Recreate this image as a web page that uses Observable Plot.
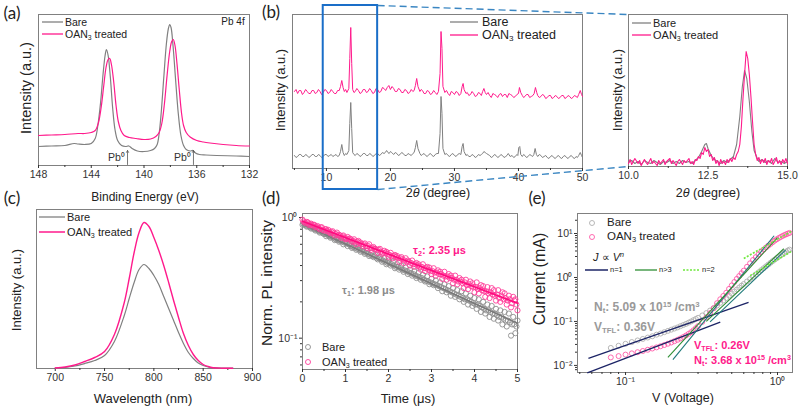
<!DOCTYPE html>
<html><head><meta charset="utf-8">
<script src="https://cdn.jsdelivr.net/npm/d3@7"></script>
<script src="https://cdn.jsdelivr.net/npm/@observablehq/plot@0.6"></script>
<style>
body{margin:0;background:#fff}
#fig{position:relative;width:799px;height:407px;overflow:hidden;background:#fff;font-family:"Liberation Sans",Arial,sans-serif;color:#222}
.t{position:absolute;white-space:nowrap;line-height:1}
.t sub{font-size:65%;vertical-align:-0.3em;line-height:0}
.t sup{font-size:65%;vertical-align:0.55em;line-height:0}
</style></head><body><div id="fig"></div>
<script>
// ---------- (a) XPS Pb 4f : [binding energy eV, intensity a.u.] ----------
const xpsBare = [[148,19],[147,19.5],[146,20],[145.3,22],[145,21.5],[144.5,21],[144,22],[143.7,27],[143.5,40],[143.3,62],[143.1,92],[142.95,110],[142.85,116],[142.72,110],[142.55,88],[142.38,58],[142.2,36],[142.0,25],[141.7,20],[141.4,19],[141.15,19.5],[140.9,17],[140.5,14.5],[140.0,14],[139.5,15],[139.2,17],[139.0,21],[138.85,32],[138.7,52],[138.5,88],[138.3,122],[138.15,137],[138.05,141],[137.95,138],[137.8,120],[137.6,85],[137.4,52],[137.2,30],[137.0,20],[136.8,16],[136.5,14.5],[136.3,15],[136.1,12.5],[135.8,11],[135.3,10.5],[134.5,10],[133,9.5],[132,9]];
const xpsOAN = [[148,30],[147,30.5],[146,31],[145,32],[144.5,32],[144,33],[143.7,35],[143.45,43],[143.25,58],[143.05,80],[142.88,98],[142.72,106],[142.6,107],[142.47,101],[142.3,84],[142.12,60],[141.95,44],[141.75,35],[141.5,30],[141.1,28],[140.6,27],[140.0,26],[139.5,26.5],[139.1,29],[138.85,33],[138.65,42],[138.45,62],[138.25,90],[138.05,114],[137.9,124],[137.78,126],[137.65,120],[137.5,102],[137.32,75],[137.15,52],[137.0,40],[136.8,33],[136.5,28.5],[136.0,25],[135.5,23.5],[135,22.5],[134,21],[133,20],[132,19.5]];
const xpsTicks = [148,144,140,136,132];
const xpsMinor = [146,142,138,134];
const pb0Peaks = [141.25,136.25];

// ---------- (b) XRD : [2theta, intensity a.u.] ----------
const xrdBare = [[5,13],[5.25,11],[5.5,12],[5.75,14],[6,14],[6.25,12],[6.5,12],[6.75,14],[7,13],[7.25,11],[7.5,12],[7.75,14],[8,14],[8.25,12],[8.5,12],[8.75,14],[9,13],[9.25,11],[9.5,12],[9.75,14],[10,14],[10.25,12],[10.5,13],[10.75,14],[11,12],[11.25,13],[11.5,14],[11.75,12],[12,13],[12.2,17],[12.4,24],[12.6,16],[12.8,13],[13,15],[13.2,14],[13.5,18],[13.65,45],[13.8,66],[13.95,40],[14.1,16],[14.3,14],[14.5,13],[14.75,15],[15,14],[15.25,12],[15.5,13],[15.75,15],[16,15],[16.25,13],[16.5,13],[16.75,15],[17,14],[17.25,12],[17.5,13],[17.75,15],[18,15],[18.25,13],[18.5,14],[18.75,16],[19,15],[19.2,16],[19.4,18],[19.6,16],[19.8,15],[20,17],[20.2,16],[20.5,14],[20.75,16],[21,15],[21.25,13],[21.5,14],[21.75,16],[22,15],[22.25,13],[22.5,13],[22.75,15],[23,14],[23.25,13],[23.5,15],[23.7,16],[23.9,21],[24.1,28],[24.3,20],[24.6,15],[24.8,13],[25,14],[25.25,15],[25.5,13],[25.75,12],[26,14],[26.25,15],[26.5,13],[26.75,12],[27,14],[27.25,15],[27.5,15],[27.75,35],[27.9,72],[28.05,55],[28.2,20],[28.5,14],[28.75,15],[29,13],[29.25,12],[29.5,14],[29.75,15],[30,13],[30.25,12],[30.5,14],[30.75,15],[31,14],[31.2,22],[31.35,25],[31.5,17],[31.8,13],[32,14],[32.25,12],[32.5,12],[32.75,14],[33,13],[33.25,11],[33.5,12],[33.75,14],[34,13],[34.2,14],[34.4,15],[34.6,17],[34.8,16],[35,15],[35.25,14],[35.5,13],[35.75,11],[36,12],[36.25,14],[36.5,13],[36.75,11],[37,12],[37.25,14],[37.5,13],[37.75,11],[38,12],[38.2,13],[38.4,15],[38.7,12],[39,13],[39.25,11],[39.5,12],[39.75,14],[39.9,13],[40.05,21],[40.2,22],[40.35,14],[40.6,12],[40.8,14],[41,13],[41.25,11],[41.5,12],[41.75,14],[42,13],[42.2,12],[42.4,14],[42.6,20],[42.8,14],[43,12],[43.25,14],[43.5,13],[43.75,11],[44,12],[44.25,13],[44.5,11],[44.75,10],[45,12],[45.25,13],[45.5,11],[45.75,10],[46,12],[46.25,13],[46.5,11],[46.75,10],[47,12],[47.25,13],[47.5,11],[47.75,10],[48,12],[48.25,13],[48.5,11],[48.75,10],[49,12],[49.2,11],[49.4,13],[49.65,16],[49.85,13],[50,11]];
const xrdOAN = [[5,77],[5.25,79],[5.5,75],[5.75,78],[6,78],[6.25,74],[6.5,76],[6.75,79],[7,77],[7.25,75],[7.5,75],[7.75,78],[8,78],[8.25,75],[8.5,76],[8.75,79],[9,77],[9.25,74],[9.5,76],[9.75,79],[10,78],[10.25,75],[10.5,76],[10.75,79],[11,77],[11.25,75],[11.5,75],[11.75,78],[12,78],[12.2,82],[12.4,88],[12.6,81],[12.8,77],[13,79],[13.2,76],[13.5,80],[13.65,110],[13.8,141],[13.95,105],[14.1,79],[14.3,76],[14.5,77],[14.75,80],[15,78],[15.25,75],[15.5,76],[15.75,79],[16,79],[16.25,76],[16.5,77],[16.75,80],[17,78],[17.25,75],[17.5,76],[17.75,80],[18,79],[18.25,76],[18.5,77],[18.75,81],[19,80],[19.25,78],[19.5,81],[19.75,83],[20,79],[20.25,82],[20.5,80],[20.75,77],[21,77],[21.25,80],[21.5,79],[21.75,76],[22,76],[22.25,79],[22.5,78],[22.75,75],[23,76],[23.25,79],[23.5,77],[23.7,78],[23.9,83],[24.1,90],[24.3,82],[24.6,77],[24.8,79],[25,78],[25.25,75],[25.5,75],[25.75,78],[26,77],[26.25,74],[26.5,75],[26.75,78],[27,76],[27.25,74],[27.5,77],[27.75,95],[27.9,137],[28.05,120],[28.2,82],[28.5,76],[28.75,78],[29,75],[29.25,73],[29.5,77],[29.75,76],[30,74],[30.25,77],[30.5,76],[30.75,73],[31,75],[31.2,82],[31.35,85],[31.5,79],[31.8,75],[32,76],[32.25,73],[32.5,74],[32.75,77],[33,75],[33.25,72],[33.5,73],[33.75,76],[34,75],[34.2,73],[34.4,77],[34.6,80],[34.8,76],[35,74],[35.25,76],[35.5,73],[35.75,71],[36,75],[36.25,74],[36.5,73],[36.75,71],[37,74],[37.25,75],[37.5,72],[37.75,74],[38,74],[38.25,71],[38.5,75],[38.75,74],[39,73],[39.25,71],[39.5,72],[39.75,74],[40,75],[40.15,81],[40.35,76],[40.6,73],[40.8,71],[41,72],[41.25,74],[41.5,74],[41.75,71],[42,72],[42.25,73],[42.45,75],[42.65,81],[42.85,76],[43,73],[43.25,71],[43.5,72],[43.75,74],[44,73],[44.25,70],[44.5,71],[44.75,73],[45,73],[45.25,70],[45.5,71],[45.75,73],[46,72],[46.25,70],[46.5,71],[46.75,73],[47,73],[47.25,70],[47.5,71],[47.75,73],[48,72],[48.25,70],[48.5,71],[48.75,73],[49,72],[49.2,71],[49.4,74],[49.65,78],[49.85,74],[50,72]];
const xrdTicks = [10,20,30,40,50];
const xrdMinor = [5,15,25,35,45];
const zoomBox = [{x1:9.5, x2:18, y1:-21, y2:163}];
const zoomLinks = [{x1:18, y1:163, x2:57.04, y2:154},{x1:18, y1:-21, x2:57.04, y2:2}];
// inset
const inBare = [[10,4],[10.1,6],[10.2,3],[10.3,5],[10.4,2],[10.5,6],[10.6,4],[10.7,3],[10.8,6],[10.9,4],[11,2],[11.1,5],[11.2,4],[11.3,6],[11.4,3],[11.5,5],[11.6,3],[11.7,6],[11.8,4],[11.9,5],[12,3],[12.1,6],[12.2,9],[12.3,15],[12.4,22],[12.45,23],[12.5,18],[12.6,11],[12.7,7],[12.8,5],[12.9,3],[13,6],[13.1,4],[13.2,7],[13.3,10],[13.4,22],[13.5,50],[13.58,80],[13.65,96],[13.72,88],[13.8,65],[13.88,35],[13.95,16],[14.05,8],[14.1,5],[14.2,7],[14.3,4],[14.4,6],[14.5,3],[14.6,8],[14.7,4],[14.8,5],[14.9,3],[15,5]];
const inOAN = [[10,3],[10.05,7],[10.1,2],[10.15,5],[10.2,8],[10.3,3],[10.35,6],[10.4,1],[10.5,7],[10.55,4],[10.6,2],[10.7,8],[10.75,3],[10.8,5],[10.9,1],[10.95,6],[11,3],[11.1,7],[11.15,2],[11.2,5],[11.3,8],[11.35,3],[11.4,6],[11.5,1],[11.55,5],[11.6,7],[11.7,2],[11.75,6],[11.8,4],[11.9,8],[11.95,3],[12,5],[12.05,2],[12.1,7],[12.15,6],[12.2,10],[12.25,8],[12.3,14],[12.35,12],[12.4,19],[12.45,15],[12.5,17],[12.55,10],[12.6,12],[12.65,6],[12.7,9],[12.75,3],[12.8,6],[12.85,1],[12.9,7],[12.95,3],[13,5],[13.05,2],[13.1,7],[13.15,4],[13.2,8],[13.25,5],[13.3,9],[13.35,7],[13.4,12],[13.45,15],[13.5,22],[13.55,40],[13.6,68],[13.65,92],[13.7,115],[13.75,108],[13.8,92],[13.85,70],[13.9,45],[13.95,22],[14,12],[14.05,6],[14.1,9],[14.15,3],[14.2,7],[14.25,4],[14.3,8],[14.35,2],[14.4,6],[14.45,4],[14.5,8],[14.55,2],[14.6,5],[14.65,9],[14.7,3],[14.75,6],[14.8,2],[14.85,7],[14.9,4],[14.95,8],[15,3]];
const inTicks = [10,12.5,15];
const inMinor = [11.25,13.75];

// ---------- (c) PL ----------
const plWave = [700,710,720,730,740,750,760,770,775,780,785,790,795,800,805,810,815,820,825,830,835,840,845,850,855,860,870,880];
const plBare = [0.3,1,2.5,5,8,13,27,53,70,86,99,104,100,93,84,72,60,48,36,25,16,10,5.5,3,1.5,0.8,0.4,0.3];
const plOAN  = [0.5,1.5,3.5,7,11,17,34,66,90,116,136,146,142,131,118,103,86,68,51,35,23,14,8,4,2,0.8,0.3,0.2];
const plTicks = [700,750,800,850,900];
const plMinor = [725,775,825,875];

// ---------- (d) TRPL ----------
const trplTime = [0,0.05,0.1,0.15,0.2,0.25,0.3,0.35,0.4,0.45,0.5,0.55,0.6,0.65,0.7,0.75,0.8,0.85,0.9,0.95,1,1.05,1.1,1.15,1.2,1.25,1.3,1.35,1.4,1.45,1.5,1.55,1.6,1.65,1.7,1.75,1.8,1.85,1.9,1.95,2,2.05,2.1,2.15,2.2,2.25,2.3,2.35,2.4,2.45,2.5,2.55,2.6,2.65,2.7,2.75,2.8,2.85,2.9,2.95,3,3.05,3.1,3.15,3.2,3.25,3.3,3.35,3.4,3.45,3.5,3.55,3.6,3.65,3.7,3.75,3.8,3.85,3.9,3.95,4,4.05,4.1,4.15,4.2,4.25,4.3,4.35,4.4,4.45,4.5,4.55,4.6,4.65,4.7,4.75,4.8,4.85,4.9,4.95,5];
const trplOAN = [0.96,0.91,0.92,0.87,0.89,0.87,0.83,0.85,0.80,0.83,0.78,0.80,0.79,0.74,0.77,0.71,0.75,0.72,0.68,0.71,0.66,0.69,0.67,0.63,0.66,0.60,0.64,0.62,0.58,0.61,0.56,0.60,0.54,0.57,0.55,0.51,0.55,0.50,0.53,0.52,0.47,0.51,0.46,0.49,0.48,0.43,0.47,0.42,0.46,0.44,0.40,0.44,0.39,0.42,0.41,0.37,0.41,0.36,0.39,0.385,0.34,0.38,0.33,0.365,0.355,0.31,0.355,0.305,0.34,0.33,0.285,0.33,0.28,0.315,0.305,0.26,0.305,0.255,0.295,0.285,0.24,0.29,0.235,0.275,0.27,0.22,0.265,0.215,0.26,0.25,0.205,0.25,0.20,0.24,0.235,0.19,0.225,0.18,0.22,0.21,0.17];
const trplBare = [0.87,0.89,0.84,0.86,0.81,0.83,0.78,0.80,0.75,0.77,0.73,0.70,0.72,0.68,0.70,0.65,0.67,0.63,0.65,0.60,0.63,0.58,0.61,0.56,0.59,0.54,0.57,0.52,0.55,0.50,0.53,0.48,0.51,0.47,0.49,0.45,0.47,0.43,0.46,0.41,0.44,0.40,0.43,0.38,0.41,0.37,0.40,0.355,0.385,0.34,0.37,0.33,0.36,0.315,0.35,0.305,0.335,0.295,0.325,0.28,0.31,0.275,0.30,0.26,0.29,0.245,0.28,0.24,0.27,0.225,0.26,0.22,0.25,0.21,0.245,0.20,0.235,0.19,0.225,0.185,0.215,0.175,0.21,0.165,0.20,0.16,0.19,0.15,0.185,0.145,0.175,0.14,0.17,0.13,0.165,0.125,0.16,0.105,0.15,0.11,0.14];
const trplTime2 = [0.025,0.075,0.125,0.175,0.225,0.275,0.325,0.375,0.425,0.475,0.525,0.575,0.625,0.675,0.725,0.775,0.825,0.875,0.925,0.975,1.025,1.075,1.125,1.175,1.225,1.275,1.325,1.375,1.425,1.475,1.525,1.575,1.625,1.675,1.725,1.775,1.825,1.875,1.925,1.975,2.025,2.075,2.125,2.175,2.225,2.275,2.325,2.375,2.425,2.475,2.525,2.575,2.625,2.675,2.725,2.775,2.825,2.875,2.925,2.975,3.025,3.075,3.125,3.175,3.225,3.275,3.325,3.375,3.425,3.475,3.525,3.575,3.625,3.675,3.725,3.775,3.825,3.875,3.925,3.975,4.025,4.075,4.125,4.175,4.225,4.275,4.325,4.375,4.425,4.475,4.525,4.575,4.625,4.675,4.725,4.775,4.825,4.875,4.925,4.975];
const trplOAN2 = [0.93,0.90,0.91,0.88,0.86,0.87,0.84,0.82,0.83,0.79,0.80,0.77,0.76,0.76,0.74,0.73,0.71,0.71,0.70,0.68,0.67,0.66,0.66,0.64,0.63,0.63,0.61,0.60,0.60,0.58,0.58,0.56,0.56,0.55,0.54,0.54,0.52,0.51,0.51,0.50,0.49,0.48,0.48,0.47,0.46,0.46,0.45,0.44,0.43,0.43,0.42,0.41,0.41,0.40,0.39,0.39,0.38,0.38,0.37,0.36,0.36,0.35,0.35,0.34,0.34,0.33,0.325,0.325,0.315,0.315,0.305,0.305,0.295,0.295,0.285,0.29,0.275,0.28,0.27,0.265,0.265,0.255,0.26,0.25,0.245,0.245,0.235,0.24,0.23,0.225,0.23,0.215,0.225,0.21,0.215,0.205,0.21,0.195,0.205,0.19];
const trplBare2 = [0.88,0.86,0.85,0.83,0.82,0.80,0.79,0.77,0.76,0.74,0.73,0.72,0.70,0.69,0.68,0.66,0.65,0.64,0.63,0.62,0.61,0.60,0.58,0.57,0.56,0.55,0.54,0.53,0.52,0.51,0.50,0.49,0.48,0.48,0.46,0.46,0.45,0.44,0.43,0.42,0.42,0.41,0.40,0.39,0.39,0.38,0.37,0.365,0.36,0.35,0.345,0.34,0.33,0.325,0.32,0.315,0.305,0.30,0.295,0.29,0.285,0.28,0.275,0.27,0.265,0.26,0.255,0.25,0.245,0.24,0.235,0.23,0.225,0.22,0.215,0.21,0.21,0.205,0.20,0.195,0.19,0.19,0.185,0.18,0.175,0.17,0.17,0.165,0.16,0.16,0.155,0.15,0.15,0.145,0.14,0.14,0.135,0.13,0.13,0.125];
const trplFitOAN = [[0,0.93],[5,0.195]];
const trplFitBare = [[0,0.88],[5,0.133]];
const trplTicks = [0,1,2,3,4,5];
const trplMinor = [0.5,1.5,2.5,3.5,4.5];

// ---------- (e) SCLC I-V ----------
const ivV = [0.08,0.09,0.10,0.11,0.12,0.13,0.14,0.15,0.16,0.17,0.18,0.19,0.20,0.21,0.22,0.23,0.24,0.25,0.26,0.27,0.28,0.29,0.30,0.32,0.34,0.36,0.38,0.40,0.42,0.44,0.46,0.48,0.50,0.52,0.54,0.56,0.58,0.60,0.63,0.66,0.69,0.72,0.75,0.78,0.81,0.84,0.87,0.90,0.93,0.96,0.99,1.02,1.05,1.08,1.11,1.14,1.17,1.20];
const ivOAN = [0.0152,0.0163,0.0176,0.0188,0.0200,0.0213,0.0227,0.0242,0.0257,0.0273,0.0291,0.0311,0.0332,0.0356,0.0382,0.0411,0.0443,0.0480,0.0522,0.057,0.063,0.070,0.078,0.098,0.124,0.155,0.20,0.26,0.32,0.38,0.45,0.55,0.66,0.79,0.93,1.08,1.25,1.43,1.75,2.1,2.5,2.9,3.35,3.8,4.3,4.8,5.3,5.8,6.35,6.9,7.4,7.9,8.35,8.8,9.2,9.6,9.95,10.3];
const ivBare = [0.025,0.028,0.031,0.034,0.037,0.040,0.043,0.046,0.050,0.053,0.057,0.061,0.065,0.069,0.073,0.078,0.083,0.088,0.094,0.100,0.107,0.114,0.121,0.137,0.155,0.177,0.20,0.23,0.265,0.30,0.34,0.385,0.43,0.48,0.53,0.59,0.65,0.71,0.81,0.92,1.04,1.17,1.31,1.46,1.62,1.79,1.97,2.16,2.36,2.56,2.77,2.98,3.2,3.42,3.65,3.88,4.1,4.3];
const fitN1 = [{x1:0.057,y1:0.0145,x2:0.645,y2:0.27},{x1:0.056,y1:0.0068,x2:0.42,y2:0.096}];
const fitN3 = [{x1:0.19,y1:0.0152,x2:1.0,y2:8.1},{x1:0.34,y1:0.10,x2:1.10,y2:4.5}];
const fitN3b = [{x1:0.205,y1:0.0135,x2:0.95,y2:8.9},{x1:0.36,y1:0.098,x2:1.13,y2:4.2}];
const fitN2 = [{x1:0.6,y1:2.7,x2:1.25,y2:11.5},{x1:0.66,y1:1.1,x2:1.25,y2:4.0}];
const ivXTicks = [0.1,1];
const ivXMinor = [0.05,0.06,0.07,0.08,0.09,0.2,0.3,0.4,0.5,0.6,0.7,0.8,0.9];
const ivYTicks = [0.01,0.1,1,10];
const ivYMinor = [0.008,0.009,0.02,0.03,0.04,0.05,0.06,0.07,0.08,0.09,0.2,0.3,0.4,0.5,0.6,0.7,0.8,0.9,2,3,4,5,6,7,8,9,20];
const powLabel = {0.01:"10⁻²",0.1:"10⁻¹",1:"10⁰",10:"10¹"};
const trplYTicks = [0.1,1];
const trplYMinor = [0.06,0.07,0.08,0.09,0.2,0.3,0.4,0.5,0.6,0.7,0.8,0.9];

// ---------- drawing ----------
const fig = document.getElementById("fig");
const GRAY = "#808080", PINK = "#ff1a8c", FRAME = "#808080", INK = "#333";
const FONT = '"Liberation Sans", Arial, sans-serif';
function place(svg, l, t){ svg.style.position="absolute"; svg.style.left=l+"px"; svg.style.top=t+"px"; fig.appendChild(svg); }
function base(w, h, m){ return {width:w, height:h, marginLeft:m[0], marginTop:m[1], marginRight:m[2], marginBottom:m[3],
  style:{fontFamily:FONT, fontSize:"10.5px", color:"#222", background:"none", overflow:"visible"}}; }
const ax = (ticks, o={}) => Plot.axisX(ticks, {tickSize:3, tickPadding:2, color:INK, label:null, ...o});
const axm = (ticks) => Plot.axisX(ticks, {tickSize:2, tickFormat:()=>"", color:INK, label:null});
const ay = (ticks, o={}) => Plot.axisY(ticks, {tickSize:3, tickPadding:2, color:INK, label:null, ...o});
const aym = (ticks) => Plot.axisY(ticks, {tickSize:2, tickFormat:()=>"", color:INK, label:null});

// (a)
place(Plot.plot({...base(260,190,[38,14,11,25]),
  x:{domain:[148,132], axis:null}, y:{domain:[0,151], axis:null},
  marks:[
    Plot.frame({stroke:FRAME}),
    ax(xpsTicks), axm(xpsMinor),
    Plot.line(xpsBare,{x:d=>d[0], y:d=>d[1], stroke:GRAY, strokeWidth:1.2, curve:"catmull-rom"}),
    Plot.line(xpsOAN,{x:d=>d[0], y:d=>d[1], stroke:PINK, strokeWidth:1.2, curve:"catmull-rom"}),
    Plot.arrow(pb0Peaks,{x1:d=>d, x2:d=>d, y1:1, y2:15, stroke:"#555", strokeWidth:0.8, headLength:4}),
    Plot.text(pb0Peaks,{x:d=>d, y:8, text:()=>"Pb⁰", dx:-11, fontSize:10.5, fill:"#333"})
  ]}), 0, 0);

// (b) main
place(Plot.plot({...base(390,200,[42,14,58,32]),
  x:{domain:[4.7,50], axis:null}, y:{domain:[0,154], axis:null},
  marks:[
    Plot.frame({stroke:FRAME}),
    ax(xrdTicks), axm(xrdMinor),
    Plot.line(xrdBare,{x:d=>d[0], y:d=>d[1], stroke:GRAY, strokeWidth:1}),
    Plot.line(xrdOAN,{x:d=>d[0], y:d=>d[1], stroke:PINK, strokeWidth:1}),
    Plot.rect(zoomBox,{x1:d=>d.x1, x2:d=>d.x2, y1:d=>d.y1, y2:d=>d.y2, fill:"none", stroke:"#1a6ec8", strokeWidth:2}),
    Plot.link(zoomLinks,{x1:d=>d.x1, y1:d=>d.y1, x2:d=>d.x2, y2:d=>d.y2, stroke:"#3a86c2", strokeWidth:1.4, strokeDasharray:"7,4"})
  ]}), 250, 0);

// (b) inset
place(Plot.plot({...base(204,190,[33,14,12,24]),
  x:{domain:[10,15], axis:null}, y:{domain:[0,152], axis:null},
  marks:[
    Plot.frame({stroke:FRAME}),
    ax(inTicks,{tickFormat:d3.format(".1f")}), axm(inMinor),
    Plot.line(inBare,{x:d=>d[0], y:d=>d[1], stroke:GRAY, strokeWidth:1.1}),
    Plot.line(inOAN,{x:d=>d[0], y:d=>d[1], stroke:PINK, strokeWidth:1.1})
  ]}), 595, 0);

// (c)
place(Plot.plot({...base(262,195,[36,14,10,22]),
  x:{domain:[681,900], axis:null}, y:{domain:[0,159], axis:null},
  marks:[
    Plot.frame({stroke:FRAME}),
    ax(plTicks), axm(plMinor),
    Plot.line(plWave,{x:d=>d, y:(d,i)=>plBare[i], stroke:GRAY, strokeWidth:1.2, curve:"catmull-rom"}),
    Plot.line(plWave,{x:d=>d, y:(d,i)=>plOAN[i], stroke:PINK, strokeWidth:1.4, curve:"catmull-rom"})
  ]}), 0, 195);

// (d)
place(Plot.plot({...base(270,195,[42,18,13,21]),
  x:{domain:[0,5], axis:null}, y:{type:"log", domain:[0.055,1.08], axis:null},
  marks:[
    Plot.frame({stroke:FRAME}),
    ax(trplTicks), axm(trplMinor),
    ay(trplYTicks,{tickFormat:d=>powLabel[d]}), aym(trplYMinor),
    Plot.dot(trplTime,{x:d=>d, y:(d,i)=>trplBare[i], r:2.6, stroke:"#8f8f8f", strokeWidth:0.9, fill:"none"}),
    Plot.dot(trplTime2,{x:d=>d, y:(d,i)=>trplBare2[i], r:2.6, stroke:"#8f8f8f", strokeWidth:0.9, fill:"none"}),
    Plot.line(trplFitBare,{x:d=>d[0], y:d=>d[1], stroke:"#7a7a7a", strokeWidth:1.6}),
    Plot.dot(trplTime,{x:d=>d, y:(d,i)=>trplOAN[i], r:2.6, stroke:"#ff3d9a", strokeWidth:0.9, fill:"none"}),
    Plot.dot(trplTime2,{x:d=>d, y:(d,i)=>trplOAN2[i], r:2.6, stroke:"#ff3d9a", strokeWidth:0.9, fill:"none"}),
    Plot.line(trplFitOAN,{x:d=>d[0], y:d=>d[1], stroke:"#ff0a7f", strokeWidth:1.6})
  ]}), 260, 195);

// (e)
place(Plot.plot({...base(259,195,[37,18,7,18]),
  x:{type:"log", domain:[0.0483,1.255], axis:null}, y:{type:"log", domain:[0.0069,28.5], axis:null},
  marks:[
    Plot.frame({stroke:FRAME}),
    ax(ivXTicks,{tickFormat:d=>powLabel[d]}), axm(ivXMinor),
    ay(ivYTicks,{tickFormat:d=>powLabel[d]}), aym(ivYMinor),
    Plot.dot(ivV,{x:d=>d, y:(d,i)=>ivBare[i], r:2.5, stroke:"#b0b0b0", strokeWidth:0.9, fill:"none"}),
    Plot.dot(ivV,{x:d=>d, y:(d,i)=>ivOAN[i], r:2.5, stroke:"#ff5aa8", strokeWidth:0.9, fill:"none"}),
    Plot.link(fitN1,{x1:"x1",y1:"y1",x2:"x2",y2:"y2", stroke:"#1c2466", strokeWidth:1.3}),
    Plot.link(fitN3b,{x1:"x1",y1:"y1",x2:"x2",y2:"y2", stroke:"#1f7a7a", strokeWidth:1.1}),
    Plot.link(fitN3,{x1:"x1",y1:"y1",x2:"x2",y2:"y2", stroke:"#2f8f35", strokeWidth:1.1}),
    Plot.link(fitN2,{x1:"x1",y1:"y1",x2:"x2",y2:"y2", stroke:"#6ee83c", strokeWidth:1.6, strokeDasharray:"2,1.5"})
  ]}), 540, 195);

// ---------- text overlays & legend keys ----------
const NS = "http://www.w3.org/2000/svg";
function T(html, x, y, o={}){
  const d = document.createElement("div"); d.className="t"; d.innerHTML=html;
  const s = d.style; s.left=x+"px"; s.top=y+"px"; s.fontSize=(o.size||12)+"px"; s.color=o.color||"#222";
  if (o.weight) s.fontWeight=o.weight; if (o.family) s.fontFamily=o.family; if (o.italic) s.fontStyle="italic";
  const tx = o.anchor==="start" ? "0" : o.anchor==="end" ? "-100%" : "-50%";
  s.transform = `translate(${tx},-50%)` + (o.rotate ? ` rotate(${o.rotate}deg)` : "");
  fig.appendChild(d);
}
function keySvg(){ const s=document.createElementNS(NS,"svg"); s.setAttribute("width",799); s.setAttribute("height",407);
  s.style.cssText="position:absolute;left:0;top:0;pointer-events:none"; fig.appendChild(s); return s; }
const keys = keySvg();
function L(x1, x2, y, color, w=1.3, dash=null){
  const l=document.createElementNS(NS,"line");
  l.setAttribute("x1",x1); l.setAttribute("x2",x2); l.setAttribute("y1",y); l.setAttribute("y2",y);
  l.setAttribute("stroke",color); l.setAttribute("stroke-width",w); if (dash) l.setAttribute("stroke-dasharray",dash);
  keys.appendChild(l);
}
function C(x, y, color, r=2.5){
  const c=document.createElementNS(NS,"circle");
  c.setAttribute("cx",x); c.setAttribute("cy",y); c.setAttribute("r",r);
  c.setAttribute("fill","none"); c.setAttribute("stroke",color); c.setAttribute("stroke-width",0.9);
  keys.appendChild(c);
}
const PF = '"Lato","Open Sans",sans-serif';
T("(a)", 12, 12, {size:17, family:PF}); T("(b)", 271, 11, {size:17, family:PF});
T("(c)", 12, 197, {size:17, family:PF}); T("(d)", 271, 197, {size:17, family:PF}); T("(e)", 537, 197, {size:17, family:PF});
// axis titles
T("Binding Energy (eV)", 145, 197, {size:12});
T("Intensity (a.u.)", 26, 88, {size:14.5, rotate:-90});
T("2<i>θ</i> (degree)", 438, 193, {size:12.5});
T("Intensity (a.u.)", 280, 90, {size:13, rotate:-90});
T("2<i>θ</i> (degree)", 708, 193, {size:12.5});
T("Intensity (a.u.)", 617, 90, {size:13, rotate:-90});
T("Wavelength (nm)", 143, 398, {size:13});
T("Intensity (a.u.)", 16, 290, {size:13, rotate:-90});
T("Time (μs)", 408, 398, {size:13});
T("Norm. PL intensity", 267, 283, {size:15.5, rotate:-90});
T("V (Voltage)", 683, 398, {size:12.5});
T("Current (mA)", 540, 279, {size:16, rotate:-90});
// (a) legend
L(42, 63, 22, GRAY); T("Bare", 65, 22, {size:10.5, anchor:"start"});
L(42, 63, 34, PINK); T("OAN<sub>3</sub> treated", 65, 34, {size:10.5, anchor:"start"});
T("Pb 4f", 233, 22, {size:10});
// (b) legend
L(450, 478, 22, GRAY); T("Bare", 482, 22, {size:12.5, anchor:"start"});
L(450, 478, 35, PINK); T("OAN<sub>3</sub> treated", 482, 35, {size:12.5, anchor:"start"});
// inset legend
L(632, 651, 23, GRAY); T("Bare", 653, 23, {size:11, anchor:"start"});
L(632, 651, 35, PINK); T("OAN<sub>3</sub> treated", 653, 35, {size:11, anchor:"start"});
// (c) legend
L(39, 65, 217, GRAY); T("Bare", 67, 217, {size:11, anchor:"start"});
L(39, 65, 232, PINK, 1.5); T("OAN<sub>3</sub> treated", 67, 232, {size:11, anchor:"start"});
// (d) legend + annotations
C(308, 347, "#8f8f8f"); T("Bare", 322, 347, {size:11, anchor:"start"});
C(308, 362, "#ff3d9a"); T("OAN<sub>3</sub> treated", 322, 362, {size:11, anchor:"start"});
T("τ<sub>2</sub>: 2.35 μs", 413, 250, {size:11, weight:"bold", color:PINK, anchor:"start"});
T("τ<sub>1</sub>: 1.98 μs", 342, 290, {size:11, weight:"bold", color:"#8c8c8c", anchor:"start"});
// (e) legend + annotations
C(592, 223, "#b0b0b0"); T("Bare", 607, 223, {size:11.5, anchor:"start"});
C(592, 237, "#ff5aa8"); T("OAN<sub>3</sub> treated", 607, 237, {size:11.5, anchor:"start"});
T("<i>J</i> ∝ <i>V</i><sup><i>n</i></sup>", 593, 257, {size:11, anchor:"start"});
L(585, 608, 270, "#1c2466", 1.5); T("n=1", 610, 270, {size:7.5, anchor:"start"});
L(635, 657, 270, "#2f8f35", 1.3); T("n>3", 659, 270, {size:7.5, anchor:"start"});
L(683, 700, 270, "#6ee83c", 1.5, "2,1.5"); T("n=2", 702, 270, {size:7.5, anchor:"start"});
T("N<sub>t</sub>: 5.09 x 10<sup>15</sup> /cm<sup>3</sup>", 594, 307, {size:12, weight:"bold", color:"#9a9a9a", anchor:"start"});
T("V<sub>TFL</sub>: 0.36V", 594, 327, {size:12, weight:"bold", color:"#9a9a9a", anchor:"start"});
T("V<sub>TFL</sub>: 0.26V", 694, 345, {size:11, weight:"bold", color:PINK, anchor:"start"});
T("N<sub>t</sub>: 3.68 x 10<sup>15</sup> /cm<sup>3</sup>", 694, 360, {size:11, weight:"bold", color:PINK, anchor:"start"});
</script></body></html>
